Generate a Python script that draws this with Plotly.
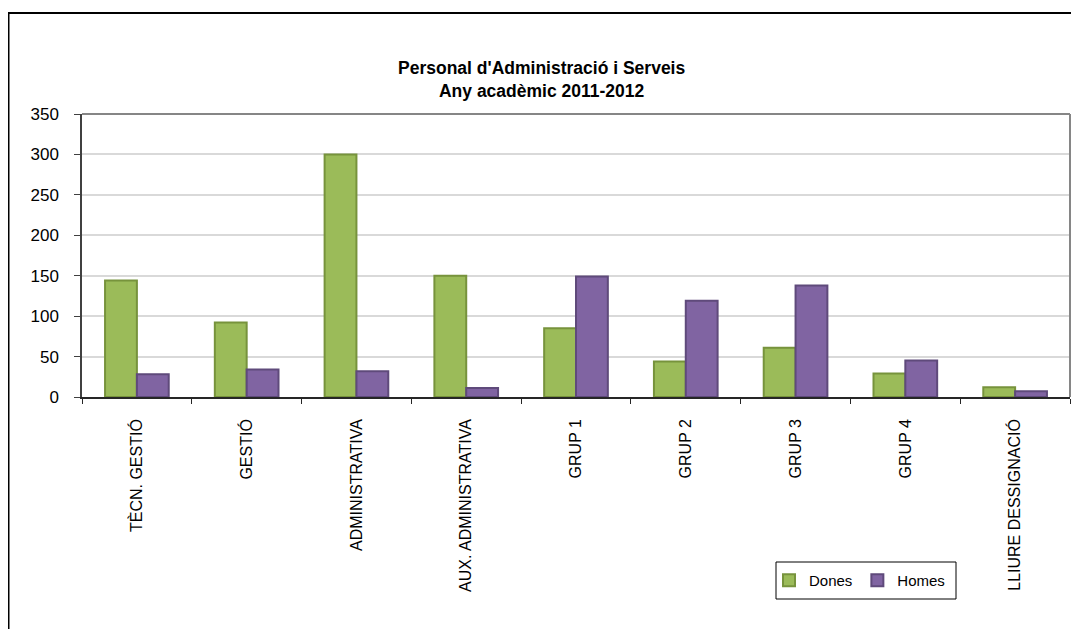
import plotly.graph_objects as go

categories = ["TÈCN. GESTIÓ", "GESTIÓ", "ADMINISTRATIVA", "AUX. ADMINISTRATIVA",
              "GRUP 1", "GRUP 2", "GRUP 3", "GRUP 4", "LLIURE DESSIGNACIÓ"]
dones = [144, 92, 300, 150, 85, 44, 61, 29, 12]
homes = [28, 34, 32, 11, 149, 119, 138, 45, 7]
y_ticks = [0, 50, 100, 150, 200, 250, 300, 350]

# page has an 8px body margin, so the figure is drawn 8px smaller on each side
W, H = 1063, 621
L, R, T, B = 74, 1062, 106, 389


def px2x(p):
    return (p - L) / (R - L)


def px2y(p):
    return (B - p) / (B - T)


FONT = "Arial, Liberation Sans, sans-serif"

fig = go.Figure()
fig.add_trace(go.Bar(name="Dones", x=categories, y=dones,
                     marker=dict(color="#9BBB59", line=dict(color="#77933C", width=2))))
fig.add_trace(go.Bar(name="Homes", x=categories, y=homes,
                     marker=dict(color="#8064A2", line=dict(color="#5F4A7B", width=2))))

fig.update_layout(
    width=W, height=H,
    margin=dict(l=L, r=W - R, t=T, b=H - B),
    paper_bgcolor="white", plot_bgcolor="white",
    font=dict(family=FONT, size=16, color="black"),
    barmode="group", bargap=0.42, bargroupgap=0,
    title=dict(text="<b>Personal d'Administració i Serveis<br>Any acadèmic 2011-2012</b>",
               x=0.502, xanchor="center", xref="container",
               y=1 - 66 / H, yanchor="middle", yref="container",
               font=dict(size=17.5, family=FONT)),
    showlegend=True,
    legend=dict(orientation="h", x=px2x(761), y=px2y(556), xanchor="left", yanchor="top",
                bgcolor="rgba(0,0,0,0)", borderwidth=0, font=dict(size=15),
                itemwidth=30, traceorder="normal"),
    xaxis=dict(type="category", tickangle=-90, showgrid=False, showline=True,
               linecolor="#262626", linewidth=1.5, ticks="outside", tickson="boundaries",
               ticklen=5, tickcolor="#262626", ticklabelstandoff=14,
               tickfont=dict(size=16), mirror=False),
    yaxis=dict(range=[0, 350], tickvals=y_ticks, showgrid=True, gridcolor="#D9D9D9",
               gridwidth=1.5, showline=True, linecolor="#404040", linewidth=1.5,
               ticks="outside", ticklen=6, tickcolor="#404040", ticklabelstandoff=12,
               tickfont=dict(size=17), zeroline=False),
    shapes=[
        # plot area top and right border
        dict(type="line", xref="paper", yref="paper", x0=0, x1=1, y0=1, y1=1,
             line=dict(color="#868686", width=2)),
        dict(type="line", xref="paper", yref="paper", x0=1, x1=1, y0=0, y1=1,
             line=dict(color="#868686", width=2)),
        # outer chart frame
        dict(type="rect", xref="paper", yref="paper",
             x0=px2x(0.5), x1=px2x(1090), y0=px2y(5), y1=px2y(660),
             line=dict(color="black", width=2), layer="below"),
        # legend box
        dict(type="rect", xref="paper", yref="paper",
             x0=px2x(768), x1=px2x(948), y0=px2y(554), y1=px2y(591),
             line=dict(color="black", width=1)),
    ],
)

fig.write_html("out.html")
